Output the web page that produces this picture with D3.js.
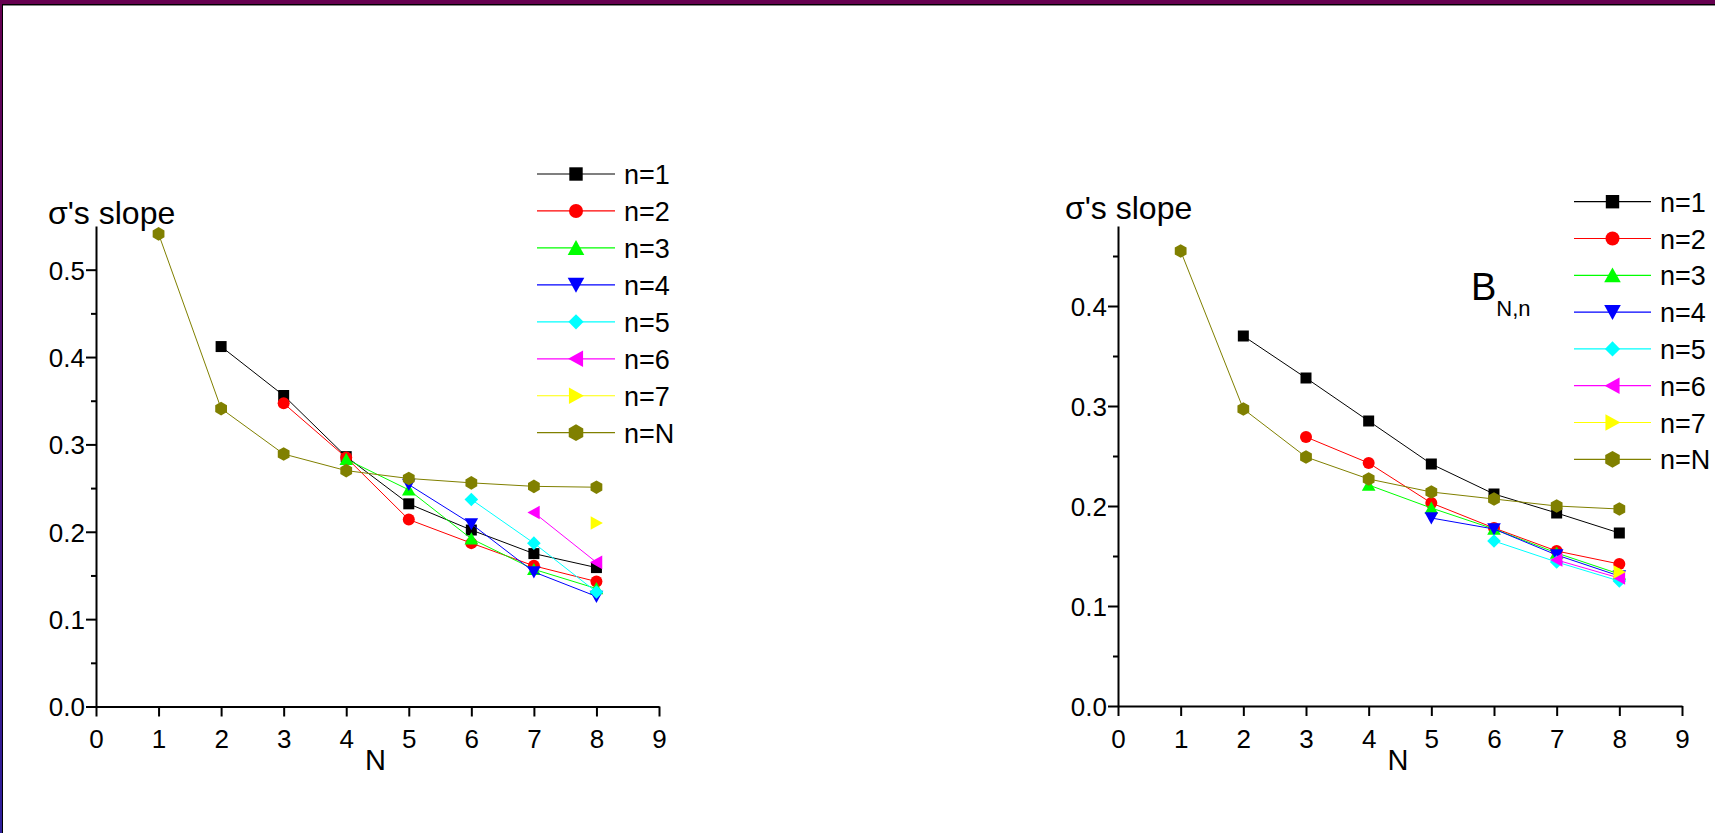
<!DOCTYPE html>
<html>
<head>
<meta charset="utf-8">
<script src="https://cdn.jsdelivr.net/npm/d3@7"></script>
<style>
  html, body { margin: 0; padding: 0; background: #fff; overflow: hidden; }
  svg { display: block; }
  text { font-family: "Liberation Sans", Arial, sans-serif; fill: #000; }
</style>
</head>
<body>
<svg id="chart" width="1715" height="833"></svg>
<script>
// ---------------- data ----------------
const Nvalues = [1, 2, 3, 4, 5, 6, 7, 8];
const xTickValues = [0, 1, 2, 3, 4, 5, 6, 7, 8, 9];
const seriesNames = ["n=1", "n=2", "n=3", "n=4", "n=5", "n=6", "n=7", "n=N"];
const seriesColors = ["#000000", "#ff0000", "#00ff00", "#0000ff", "#00ffff", "#ff00ff", "#ffff00", "#808000"];
const seriesShapes = ["square", "circle", "triUp", "triDown", "diamond", "triLeft", "triRight", "hexagon"];

// left panel (values for N = 1..8, null = no point)
const leftN1 = [null, 0.412, 0.356, 0.286, 0.232, 0.202, 0.175, 0.159];
const leftN2 = [null, null, 0.347, 0.285, 0.214, 0.187, 0.161, 0.143];
const leftN3 = [null, null, null, 0.283, 0.248, 0.192, 0.157, 0.135];
const leftN4 = [null, null, null, null, 0.254, 0.209, 0.154, 0.126];
const leftN5 = [null, null, null, null, null, 0.237, 0.187, 0.131];
const leftN6 = [null, null, null, null, null, null, 0.222, 0.165];
const leftN7 = [null, null, null, null, null, null, null, 0.210];
const leftNN = [0.541, 0.341, 0.289, 0.270, 0.261, 0.256, 0.252, 0.251];
const leftYTicks = [0.0, 0.1, 0.2, 0.3, 0.4, 0.5];
const leftYMinor = [0.05, 0.15, 0.25, 0.35, 0.45];
const leftYMax = 0.55;

// right panel (B_{N,n})
const rightN1 = [null, 0.370, 0.328, 0.285, 0.242, 0.212, 0.193, 0.173];
const rightN2 = [null, null, 0.269, 0.243, 0.203, 0.178, 0.155, 0.142];
const rightN3 = [null, null, null, 0.221, 0.198, 0.177, 0.153, 0.132];
const rightN4 = [null, null, null, null, 0.188, 0.177, 0.151, 0.130];
const rightN5 = [null, null, null, null, null, 0.165, 0.144, 0.125];
const rightN6 = [null, null, null, null, null, null, 0.146, 0.128];
const rightN7 = [null, null, null, null, null, null, null, 0.134];
const rightNN = [0.455, 0.297, 0.249, 0.227, 0.214, 0.207, 0.200, 0.197];
const rightYTicks = [0.0, 0.1, 0.2, 0.3, 0.4];
const rightYMinor = [0.05, 0.15, 0.25, 0.35, 0.45];
const rightYMax = 0.48;

const yTitle = "σ's slope";
const xTitle = "N";

// ---------------- drawing ----------------
const svg = d3.select("#chart");
const defs = svg.append("defs");
const grad = defs.append("linearGradient").attr("id", "leftBorder")
  .attr("x1", 0).attr("y1", 0).attr("x2", 0).attr("y2", 1);
grad.append("stop").attr("offset", "0%").attr("stop-color", "#660050");
grad.append("stop").attr("offset", "100%").attr("stop-color", "#2e1f9c");

// frame
svg.append("rect").attr("x", 0).attr("y", 0).attr("width", 1715).attr("height", 4).attr("fill", "#660050");
svg.append("rect").attr("x", 0).attr("y", 0).attr("width", 2).attr("height", 833).attr("fill", "url(#leftBorder)");
svg.append("line").attr("x1", 2).attr("x2", 1715).attr("y1", 4.5).attr("y2", 4.5).attr("stroke", "#000").attr("stroke-width", 1);
svg.append("line").attr("x1", 2).attr("x2", 1715).attr("y1", 5.5).attr("y2", 5.5).attr("stroke", "#888").attr("stroke-width", 1);
svg.append("line").attr("x1", 2.5).attr("x2", 2.5).attr("y1", 4).attr("y2", 833).attr("stroke", "#000").attr("stroke-width", 1);

function shapePath(shape, r) {
  const pts = [];
  switch (shape) {
    case "square": return `M${-r},${-r}H${r}V${r}H${-r}Z`;
    case "circle": return `M${r},0A${r},${r} 0 1,1 ${-r},0A${r},${r} 0 1,1 ${r},0Z`;
    case "triUp": return `M0,${-0.95*r}L${r},${0.85*r}L${-r},${0.85*r}Z`;
    case "triDown": return `M0,${0.95*r}L${r},${-0.85*r}L${-r},${-0.85*r}Z`;
    case "triLeft": return `M${-0.95*r},0L${0.85*r},${-r}L${0.85*r},${r}Z`;
    case "triRight": return `M${0.95*r},0L${-0.85*r},${-r}L${-0.85*r},${r}Z`;
    case "diamond": return `M0,${-r}L${r},0L0,${r}L${-r},0Z`;
    case "hexagon":
      for (let k = 0; k < 6; k++) {
        const a = Math.PI / 2 + k * Math.PI / 3;
        pts.push([r * Math.cos(a), r * Math.sin(a)]);
      }
      return "M" + pts.map(p => p[0].toFixed(2) + "," + p[1].toFixed(2)).join("L") + "Z";
  }
}
const dataR = { square: 5.5, circle: 6, triUp: 6.8, triDown: 6.8, diamond: 6.8, triLeft: 6.8, triRight: 6.8, hexagon: 6.8 };
const legendR = { square: 6.7, circle: 7, triUp: 8.3, triDown: 8.3, diamond: 7.6, triLeft: 8.3, triRight: 8.3, hexagon: 8.4 };

function drawPanel(cfg) {
  const g = svg.append("g");
  const x = d3.scaleLinear().domain([0, 9]).range([cfg.x0, cfg.x1]);
  const y = d3.scaleLinear().domain([0, cfg.yMax]).range([cfg.yBottom, cfg.yTop]);

  // x axis
  const xAxis = g.append("g").attr("transform", `translate(0,${cfg.yBottom})`)
    .call(d3.axisBottom(x).tickValues(xTickValues).tickFormat(d3.format("d")).tickSize(10).tickSizeOuter(0));
  xAxis.select(".domain").attr("stroke-width", 2);
  xAxis.selectAll(".tick line").attr("stroke-width", 2);
  xAxis.selectAll(".tick text").attr("y", 41.5).attr("dy", null)
    .style("font-size", "26px").style("font-family", "'Liberation Sans', Arial, sans-serif");

  // y axis minor
  const yMinor = g.append("g").attr("transform", `translate(${cfg.x0},0)`)
    .call(d3.axisLeft(y).tickValues(cfg.yMinor).tickFormat("").tickSize(5).tickSizeOuter(0));
  yMinor.select(".domain").remove();
  yMinor.selectAll(".tick line").attr("stroke-width", 2);
  // y axis major
  const yAxis = g.append("g").attr("transform", `translate(${cfg.x0},0)`)
    .call(d3.axisLeft(y).tickValues(cfg.yTicks).tickFormat(d3.format(".1f")).tickSize(10).tickSizeOuter(0));
  yAxis.select(".domain").attr("stroke-width", 2);
  yAxis.selectAll(".tick line").attr("stroke-width", 2);
  yAxis.selectAll(".tick text").attr("x", -11).attr("dy", "0.36em")
    .style("font-size", "26px").style("font-family", "'Liberation Sans', Arial, sans-serif");

  // titles
  g.append("text").attr("x", cfg.yTitleX).attr("y", cfg.yTitleY)
    .style("font-size", "32px").text(yTitle);
  g.append("text").attr("x", (cfg.x0 + cfg.x1) / 2 - 2).attr("y", 770)
    .attr("text-anchor", "middle").style("font-size", "29px").text(xTitle);

  // series
  const line = d3.line().defined(d => d.v != null).x(d => x(d.n)).y(d => y(d.v));
  cfg.series.forEach((vals, i) => {
    const pts = Nvalues.map((n, j) => ({ n: n, v: vals[j] }));
    g.append("path").datum(pts).attr("d", line)
      .attr("fill", "none").attr("stroke", seriesColors[i]).attr("stroke-width", 1);
    g.selectAll(null).data(pts.filter(d => d.v != null)).enter().append("path")
      .attr("transform", d => `translate(${x(d.n)},${y(d.v)})`)
      .attr("d", shapePath(seriesShapes[i], dataR[seriesShapes[i]]))
      .attr("fill", seriesColors[i]);
  });

  // legend
  const lg = g.append("g");
  seriesNames.forEach((name, i) => {
    const cy = cfg.legY + i * cfg.legStep;
    lg.append("line").attr("x1", cfg.legX1).attr("x2", cfg.legX2).attr("y1", cy).attr("y2", cy)
      .attr("stroke", seriesColors[i]).attr("stroke-width", 1.2);
    lg.append("path").attr("transform", `translate(${(cfg.legX1 + cfg.legX2) / 2},${cy})`)
      .attr("d", shapePath(seriesShapes[i], legendR[seriesShapes[i]]))
      .attr("fill", seriesColors[i]);
    lg.append("text").attr("x", cfg.legTextX).attr("y", cy + 10)
      .style("font-size", "27px").text(name);
  });
  return g;
}

drawPanel({
  x0: 96, x1: 659, yBottom: 706.5, yTop: 226, yMax: leftYMax,
  yTicks: leftYTicks, yMinor: leftYMinor,
  yTitleX: 48, yTitleY: 224,
  series: [leftN1, leftN2, leftN3, leftN4, leftN5, leftN6, leftN7, leftNN],
  legX1: 537, legX2: 615, legTextX: 624, legY: 174, legStep: 36.96
});

const right = drawPanel({
  x0: 1118, x1: 1682, yBottom: 706, yTop: 226, yMax: rightYMax,
  yTicks: rightYTicks, yMinor: rightYMinor,
  yTitleX: 1065, yTitleY: 219,
  series: [rightN1, rightN2, rightN3, rightN4, rightN5, rightN6, rightN7, rightNN],
  legX1: 1574, legX2: 1651, legTextX: 1660, legY: 201.7, legStep: 36.8
});

// B_{N,n} annotation
const bt = right.append("text").attr("x", 1471).attr("y", 300).style("font-size", "38px");
bt.append("tspan").text("B");
bt.append("tspan").attr("dy", 16).style("font-size", "22px").text("N,n");
</script>
</body>
</html>
